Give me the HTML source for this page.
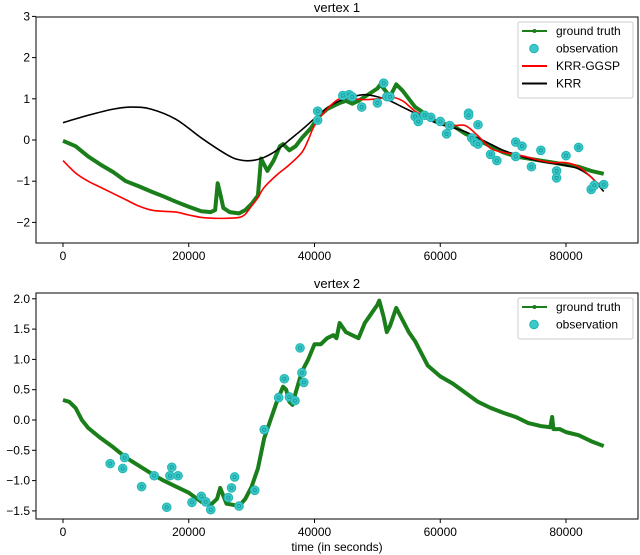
<!DOCTYPE html>
<html><head><meta charset="utf-8"><style>
body{margin:0;background:#fff}
svg{display:block;font-family:"Liberation Sans","DejaVu Sans",sans-serif}
</style></head><body>
<svg id="chart" width="640" height="555"></svg>
<script>
// ---- data (x in thousands of seconds) ----
const v1TruthX=[0,2,4,6,8,10,12,14,16,18,20,22,23.5,24.2,24.6,25,25.5,26.5,28,29,30,31,31.5,32,32.5,33.5,34.5,35,36,37,38,39.5,40.5,42,44,45,46,47,48,49,50,50.5,51,52,53,54,55,56,57,58,60,62,64,66,68,70,72,74,76,78,80,82,84,86];
const v1TruthY=[-0.02,-0.15,-0.4,-0.6,-0.78,-1.0,-1.12,-1.25,-1.37,-1.5,-1.62,-1.73,-1.75,-1.7,-1.05,-1.3,-1.65,-1.75,-1.78,-1.7,-1.55,-1.35,-0.45,-0.6,-0.75,-0.5,-0.15,-0.1,-0.25,-0.15,0.05,0.3,0.55,0.75,0.9,0.95,0.88,0.95,1.05,1.15,1.25,1.35,1.25,1.05,1.35,1.2,1.0,0.8,0.7,0.55,0.4,0.35,0.15,0.0,-0.15,-0.3,-0.4,-0.45,-0.5,-0.55,-0.6,-0.65,-0.75,-0.82];
const v1ObsX=[40.5,40.5,44.5,45.5,46,47.5,50,51,51.5,52,56,56.5,57.5,58.5,60,61,61.5,64.5,64.5,65,65.5,66,66,68,69,72,72,73,74.5,76,78.5,78.5,80,82,84,84.5,86];
const v1ObsY=[0.7,0.48,1.08,1.1,1.05,0.8,0.9,1.38,1.05,1.05,0.57,0.45,0.6,0.55,0.45,0.15,0.35,0.65,0.6,0.05,-0.05,0.37,-0.1,-0.35,-0.5,-0.05,-0.4,-0.15,-0.65,-0.25,-0.75,-0.92,-0.38,-0.18,-1.2,-1.1,-1.08];
const ggspX=[0,2,4,6,8,10,12,14,16,18,20,22,24,26,28,29,30,31,32,34,36,38,39,40,42,44,46,48,50,52,54,56,58,60,62,64,66,68,70,72,74,76,78,80,82,84,85,86];
const ggspY=[-0.5,-0.8,-1.0,-1.15,-1.3,-1.45,-1.6,-1.7,-1.73,-1.75,-1.82,-1.88,-1.9,-1.9,-1.88,-1.8,-1.6,-1.4,-1.15,-0.85,-0.6,-0.3,0.0,0.35,0.75,1.0,1.0,0.98,1.0,1.05,0.95,0.7,0.55,0.45,0.35,0.35,0.1,-0.2,-0.3,-0.35,-0.42,-0.5,-0.55,-0.55,-0.65,-0.9,-1.05,-1.05];
const krrX=[0,4,8,11,14,18,22,26,28,30,32,34,36,38,40,42,44,46,48,50,52,54,56,58,60,62,64,66,68,70,72,74,76,78,80,82,84,86];
const krrY=[0.42,0.6,0.75,0.8,0.75,0.5,0.05,-0.35,-0.48,-0.5,-0.42,-0.25,0.0,0.25,0.52,0.78,0.95,1.05,1.1,1.05,0.95,0.8,0.65,0.5,0.38,0.3,0.2,0.05,-0.1,-0.25,-0.35,-0.45,-0.52,-0.57,-0.62,-0.7,-0.9,-1.25];
const v2TruthX=[0,1,2,3,4,6,8,10,12,14,16,18,20,22,23.5,24.5,25,25.5,26,27,28,29,30,31,32,33,34,35,35.5,36,36.5,37,38,39,40,41,42,43,43.5,44,45,46,47,48,49,50,50.3,51,51.5,52,53,54,55,56,57,58,60,62,64,66,68,70,72,74,76,77.5,77.8,78,79,80,82,84,86];
const v2TruthY=[0.33,0.3,0.2,0.0,-0.13,-0.3,-0.45,-0.62,-0.75,-0.88,-1.0,-1.1,-1.2,-1.35,-1.4,-1.3,-1.12,-1.25,-1.38,-1.4,-1.42,-1.3,-1.1,-0.8,-0.3,0.0,0.3,0.55,0.5,0.3,0.25,0.45,0.8,1.0,1.25,1.25,1.35,1.4,1.35,1.6,1.45,1.4,1.35,1.6,1.75,1.9,1.97,1.7,1.45,1.55,1.85,1.65,1.45,1.3,1.1,0.9,0.72,0.6,0.45,0.3,0.2,0.12,0.05,-0.05,-0.1,-0.12,0.05,-0.15,-0.15,-0.2,-0.25,-0.35,-0.43];
const v2ObsX=[7.5,9.8,9.5,12.5,14.5,16.5,17,17.3,18.3,20.5,22,22.7,23.5,26.3,26.8,27.3,28,30.5,32,34.3,35.2,36,36.9,37.7,38,38.3];
const v2ObsY=[-0.72,-0.62,-0.8,-1.1,-0.92,-1.44,-0.92,-0.78,-0.92,-1.36,-1.26,-1.35,-1.48,-1.28,-1.12,-0.94,-1.42,-1.16,-0.16,0.37,0.68,0.38,0.32,1.19,0.78,0.62];
const xTicks=[0,20000,40000,60000,80000];
const v1YTicks=[-2,-1,0,1,2,3];
const v2YTicks=[-1.5,-1.0,-0.5,0.0,0.5,1.0,1.5,2.0];

const NS="http://www.w3.org/2000/svg";
const svg=document.getElementById('chart');
function mk(tag,attrs,parent){const e=document.createElementNS(NS,tag);for(const k in attrs)e.setAttribute(k,attrs[k]);(parent||svg).appendChild(e);return e;}
const sx=v=>63+v*1000*(503/80000);
function smooth(pts){
  let d='M'+pts[0][0]+','+pts[0][1];
  for(let i=0;i<pts.length-1;i++){
    const p0=pts[Math.max(0,i-1)],p1=pts[i],p2=pts[i+1],p3=pts[Math.min(pts.length-1,i+2)];
    const c1x=p1[0]+(p2[0]-p0[0])/6,c1y=p1[1]+(p2[1]-p0[1])/6;
    const c2x=p2[0]-(p3[0]-p1[0])/6,c2y=p2[1]-(p3[1]-p1[1])/6;
    d+=' C'+c1x+','+c1y+' '+c2x+','+c2y+' '+p2[0]+','+p2[1];
  }
  return d;
}

function panel(cfg){
  const g=mk('g',{});
  
  
  const sy=v=>cfg.y0+(cfg.v0-v)*cfg.k;
  const sxd=v=>63+v*(503/80000);
  const t=mk('text',{x:337,y:cfg.top-5,'text-anchor':'middle','font-size':13},g);
  t.textContent=cfg.title;
  
  
  xTicks.forEach(v=>{
    const x=sxd(v);
    mk('line',{x1:x,x2:x,y1:cfg.bot,y2:cfg.bot+4,stroke:'#000'},g);
    const tl=mk('text',{x:x,y:cfg.bot+17,'text-anchor':'middle','font-size':12},g);
    tl.textContent=String(v);
    
    
  });
  cfg.yTicks.forEach(v=>{
    const y=sy(v);
    mk('line',{x1:32,x2:36,y1:y,y2:y,stroke:'#000'},g);
    const tl=mk('text',{x:30,y:y+4,'text-anchor':'end','font-size':12},g);
    tl.textContent=(cfg.dec?v.toFixed(1):String(v)).replace('-','\u2212');
    
    
  });
  const line=(xs,ys,col,w,nm,sm)=>{
    const pts=xs.map((x,i)=>[sx(x),sy(ys[i])]);
    const p=sm?mk('path',{d:smooth(pts),fill:'none',stroke:col,'stroke-width':w},g)
      :mk('polyline',{points:pts.map(q=>q.join(',')).join(' '),fill:'none',stroke:col,'stroke-width':w,'stroke-linejoin':'round'},g);
    
    
  };
  line(cfg.tx,cfg.ty,'#1a7f1a',4,'ground-truth-line',false);
  if(cfg.krr) line(krrX,krrY,'#000',1.6,'krr-line',true);
  if(cfg.ggsp) line(ggspX,ggspY,'#ff0000',1.6,'krr-ggsp-line',true);
  cfg.ox.forEach((x,i)=>{
    const c=mk('circle',{cx:sx(x),cy:sy(cfg.oy[i]),r:4.3,fill:'#3cc8c8',stroke:'#22b5b5','stroke-width':1},g);
    
    
    mk('circle',{cx:sx(x),cy:sy(cfg.oy[i]),r:1.6,fill:'none',stroke:'#159a9a','stroke-width':0.8},g);
  });
  const f=mk('rect',{x:36,y:cfg.top,width:602,height:cfg.bot-cfg.top,fill:'none',stroke:'#000','stroke-width':1},g);
  
  
  const L=mk('g',{},g);
  
  
  const lh=cfg.entries.length*17.5+6;
  mk('rect',{x:518,y:cfg.top+5,width:115,height:lh,rx:2,fill:'#fff',stroke:'#ccc'},L);
  cfg.entries.forEach((e,i)=>{
    const y=cfg.top+14+i*17.5;
    if(e[1]==='obs'){
      mk('circle',{cx:534,cy:y,r:4.3,fill:'#3cc8c8',stroke:'#22b5b5'},L);
    } else {
      mk('line',{x1:522,x2:547,y1:y,y2:y,stroke:e[1],'stroke-width':2},L);
      if(e[2]) mk('circle',{cx:534.5,cy:y,r:2,fill:e[1]},L);
    }
    const tx=mk('text',{x:556,y:y+4,'font-size':12},L);
    tx.textContent=e[0];
    
    
  });
}
panel({name:'vertex-1-panel',title:'vertex 1',top:17,bot:243,y0:140,v0:0,k:41.2,yTicks:v1YTicks,dec:false,
  tx:v1TruthX,ty:v1TruthY,ox:v1ObsX,oy:v1ObsY,krr:true,ggsp:true,
  entries:[['ground truth','#1a7f1a',true],['observation','obs'],['KRR-GGSP','#ff0000'],['KRR','#000']]});
panel({name:'vertex-2-panel',title:'vertex 2',top:293,bot:519,y0:420,v0:0,k:60.6,yTicks:v2YTicks,dec:true,
  tx:v2TruthX,ty:v2TruthY,ox:v2ObsX,oy:v2ObsY,krr:false,ggsp:false,
  entries:[['ground truth','#1a7f1a',true],['observation','obs']]});
const xl=mk('text',{x:337,y:551,'text-anchor':'middle','font-size':12});
xl.textContent='time (in seconds)';


</script>
</body></html>
